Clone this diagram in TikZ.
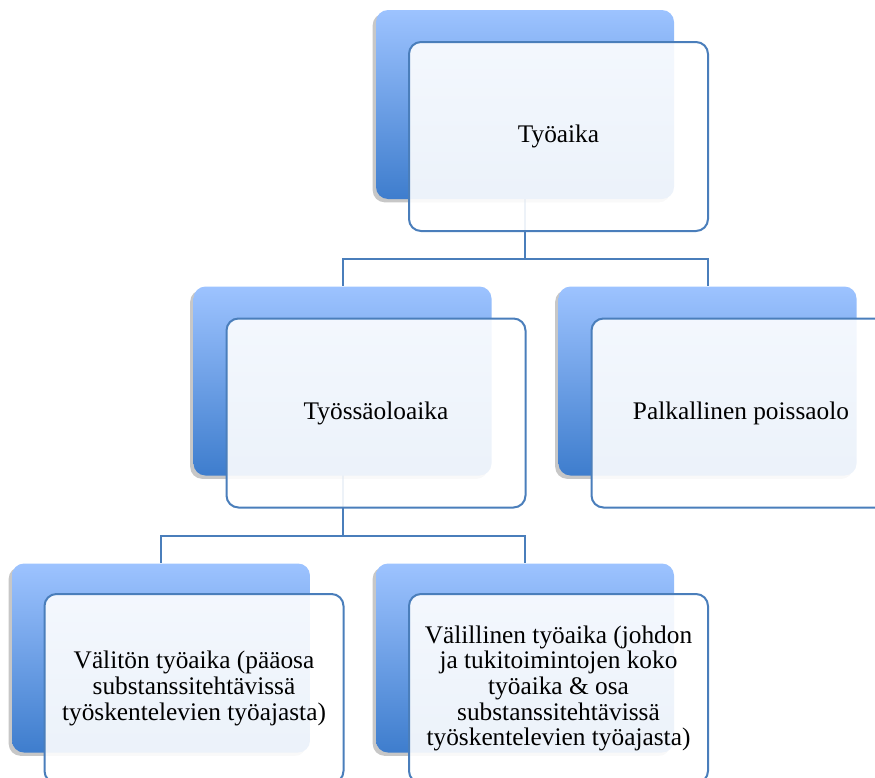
\documentclass[tikz,border=0pt]{standalone}
\usepackage{fontspec}
\setmainfont{Liberation Serif}
\usepackage{tikz}
\usetikzlibrary{calc,shadows,backgrounds}
\definecolor{boxlight}{RGB}{157,195,255}
\definecolor{boxdark}{RGB}{62,125,205}
\definecolor{linkblue}{RGB}{74,126,187}
\tikzset{backbox/.style={rounded corners=9pt,minimum width=223.5pt,minimum height=141.75pt,
                    inner sep=0pt,top color=boxlight,bottom color=boxdark,
                    drop shadow={shadow xshift=-2.5pt,shadow yshift=-2.5pt,fill=black,opacity=.22}},
         textbox/.style={rounded corners=9pt,minimum width=224.25pt,minimum height=141.75pt,
                    inner sep=0pt,draw=linkblue,line width=1.5pt,fill=white,fill opacity=.9,
                    text opacity=1,align=center,font=\fontsize{19}{19.2}\selectfont},
         link/.style={draw=linkblue,line width=1.5pt}}

\begin{document}
\begin{tikzpicture}[x=0.75pt,y=-0.75pt]
                \useasboundingbox (0,0) rectangle (875,778);
                \clip (0,0) rectangle (875,778);

                % level 1
                \node[backbox] (topb) at (525,104.5) {};
                \node[textbox] (top) at ($(topb)+(33.5,32)$) {Työaika};

                % level 2
                \node[backbox] (tyossab) at (342.5,381) {};
                \node[textbox] (tyossa) at ($(tyossab)+(33.5,32)$) {Työssäoloaika};
                \node[backbox] (palkb) at (707.5,381) {};
                \node[textbox] (palk) at ($(palkb)+(33.5,32)$) {Palkallinen poissaolo};

                % level 3
                \node[backbox] (valitonb) at (161,658) {};
                \node[textbox] (valiton) at ($(valitonb)+(33,30.5)$) {Välitön työaika (pääosa\\ substanssitehtävissä\\ työskentelevien työajasta)};
                \node[backbox] (valillb) at (525,658) {};
                \node[textbox] (valill) at ($(valillb)+(33.5,30.5)$) {Välillinen työaika (johdon\\ ja tukitoimintojen koko\\ työaika \& osa\\ substanssitehtävissä\\ työskentelevien työajasta)};

                \begin{scope}[on background layer]
                    \coordinate (fork1) at ($(topb.south)+(0,60)$);
                    \coordinate (fork2) at ($(tyossab.south)+(0,60)$);
                    \draw[link] (topb.center) -- (fork1) -| (tyossab.north);
                    \draw[link] (fork1) -| (palkb.north);
                    \draw[link] (tyossab.center) -- (fork2) -| (valitonb.north);
                    \draw[link] (fork2) -| (valillb.north);
                \end{scope}
\end{tikzpicture}
\end{document}
